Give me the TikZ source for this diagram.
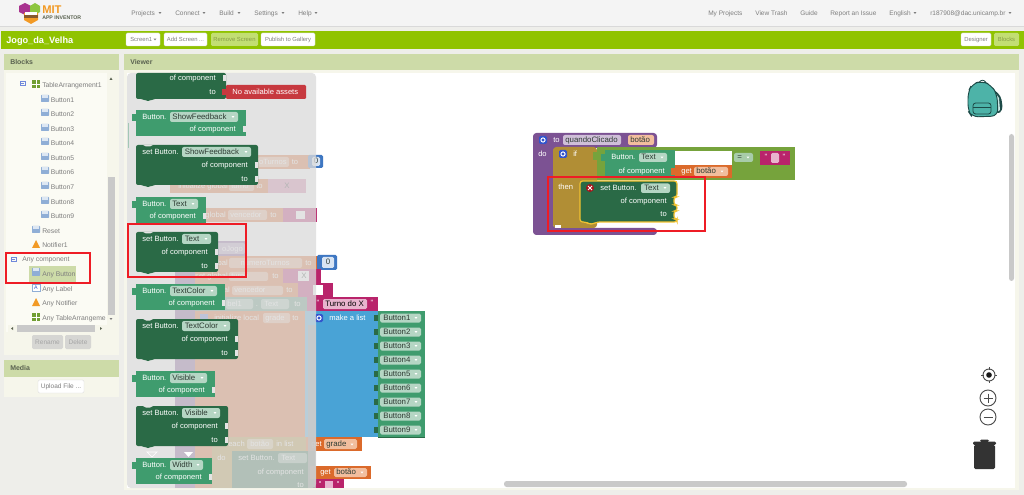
\documentclass[tikz,border=0pt]{standalone}
\usepackage{fontspec}
\setmainfont{Liberation Sans}
\usepackage{xcolor}
\definecolor{pagebg}{HTML}{EEEEEA}
\definecolor{topbar}{HTML}{F4F4F4}
\definecolor{barline}{HTML}{D9D9D9}
\definecolor{menuink}{HTML}{7E7E7E}
\definecolor{limebar}{HTML}{90C300}
\definecolor{headbar}{HTML}{CDDBA8}
\definecolor{headink}{HTML}{5A6250}
\definecolor{panelbody}{HTML}{F6F6EB}
\definecolor{treebody}{HTML}{FBFBF4}
\definecolor{scrollgray}{HTML}{C9C9C9}
\definecolor{flyoutgray}{HTML}{DBDBDB}
\definecolor{flyoutbg}{HTML}{E4E4E4}
\definecolor{setgreen}{HTML}{2A6A46}
\definecolor{getgreen}{HTML}{3F9C6E}
\definecolor{fieldgreen}{HTML}{B5D6C4}
\definecolor{fieldink}{HTML}{2E3B33}
\definecolor{assetred}{HTML}{C7393F}
\definecolor{markred}{HTML}{EE1C25}
\definecolor{getorange}{HTML}{DB6A2B}
\definecolor{fieldorange}{HTML}{F2BE9E}
\definecolor{procpurple}{HTML}{7C5293}
\definecolor{fieldpurple}{HTML}{CFBFD8}
\definecolor{iftan}{HTML}{B18E35}
\definecolor{logiclime}{HTML}{76A33C}
\definecolor{listblue}{HTML}{49A3D6}
\definecolor{gearblue}{HTML}{3355CC}
\definecolor{numblue}{HTML}{3E77C2}
\definecolor{strpink}{HTML}{B9246B}
\definecolor{fieldpink}{HTML}{E8B4CE}
\definecolor{warnyellow}{HTML}{F2C230}
\definecolor{iconblue}{HTML}{8FAED6}
\definecolor{packteal}{HTML}{4DB3A8}
\definecolor{packdark}{HTML}{1D4A47}
\definecolor{logoorange}{HTML}{F29A25}
\definecolor{logopink}{HTML}{A8338F}
\definecolor{logogreen}{HTML}{8DC63F}
\usepackage{tikz}
\usetikzlibrary{positioning}
\tikzset{
  menutxt/.style={font=\fontsize{4.9}{6}\selectfont, text=menuink, inner sep=0, text height=4.1pt, text depth=.8pt},
  btntxt/.style={font=\fontsize{4.4}{6}\selectfont, text=menuink, inner sep=0, text height=3.7pt, text depth=.8pt},
  treetxt/.style={font=\fontsize{5.1}{6}\selectfont, text=menuink, inner sep=0, anchor=west, text height=4.2pt, text depth=.8pt},
  headtxt/.style={font=\bfseries\fontsize{5.2}{6}\selectfont, text=headink, inner sep=0, anchor=west},
  blocktxt/.style={font=\fontsize{5.7}{7}\selectfont, text=white, inner sep=0, text height=4.6pt, text depth=1pt},
  fieldtxt/.style={font=\fontsize{5.9}{7}\selectfont, text=fieldink, inner sep=0, anchor=west, text height=4.7pt, text depth=1pt},
  undercap/.style={fill=white, fill opacity=.45, rounded corners=1.5pt},
  btnbox/.style={fill=white, rounded corners=1pt, draw=barline, line width=.3pt},
  markbox/.style={draw=markred, line width=1.9pt}
}
\newcommand{\downtip}[3]{\fill[#3] (#1-1.4,#2-.9) -- (#1+1.4,#2-.9) -- (#1,#2+1) -- cycle;}
\newcommand{\gearicon}[2]{\fill[gearblue, rounded corners=1pt] (#1-4,#2-4) rectangle (#1+4,#2+4);
  \draw[white, line width=.7pt] (#1,#2) circle (2.1);}
\begin{document}
\begin{tikzpicture}[x=0.75pt,y=-0.75pt]
  \useasboundingbox (0,0) rectangle (1024,495);
  \fill[pagebg] (0,0) rectangle (1024,495);
  % Top menu
  \fill[topbar] (0,0) rectangle (1024,26);
  \draw[barline, line width=.6pt] (0,26.5) -- (1024,26.5);
  % Logo
  \fill[logopink] (19,6) -- (25,3) -- (31,6) -- (31,12) -- (25,15) -- (19,12) -- cycle;
  \fill[logogreen] (30,6) -- (35,3) -- (40,6) -- (40,12) -- (35,15) -- (30,12) -- cycle;
  \fill[logoorange] (24,13) -- (38,13) -- (38,20) -- (31,24) -- (24,20) -- cycle;
  \fill[white] (25,12) rectangle (37,15);
  \fill[brown!70!black] (24,15) rectangle (38,18);
  \node[font=\bfseries\fontsize{8.4}{9}\selectfont, text=logoorange, inner sep=0, anchor=west] (logomit) at (42,9.5) {MIT};
  \node[font=\bfseries\fontsize{3.9}{5}\selectfont, text=headink, inner sep=0, anchor=west] (logoapp) at (42,18) {APP INVENTOR};
  % Menu entries (deterministic positions)
  \foreach \id/\x/\lab in {projects/131/Projects,connect/175/Connect,build/219/Build,settings/254/Settings,help/298/Help} {
    \node[menutxt, anchor=west] (menu\id) at (\x,13) {\lab};
  }
  \downtip{160}{13}{menuink} \downtip{204}{13}{menuink} \downtip{239}{13}{menuink}
  \downtip{283}{13}{menuink} \downtip{316}{13}{menuink}
  \foreach \id/\x/\lab in {myprojects/708/My Projects,trash/755/View Trash,guide/800/Guide,issue/830/Report an Issue,english/889/English,account/930/r187908@dac.unicamp.br} {
    \node[menutxt, anchor=west] (menu\id) at (\x,13) {\lab};
  }
  \downtip{915}{13}{menuink} \downtip{1010}{13}{menuink}
  % Project bar
  \fill[limebar] (1,31) rectangle (1024,49);
  \node[font=\bfseries\fontsize{6.9}{8}\selectfont, text=white, inner sep=0, anchor=west] (project) at (6,41) {Jogo\_da\_Velha};
  \foreach \id/\xa/\xb/\lab in {publish/261/315/Publish to Gallery,designer/961/991/Designer} {
    \path[btnbox] (\xa,33) rectangle (\xb,46);
    \node[btntxt] (bar\id) at ({(\xa+\xb)/2},39.5) {\lab};
  }
  \path[btnbox] (164,33) rectangle (207,46);
  \node[btntxt] (baraddscreen) at (185.5,39.5) {Add Screen ...};
  \path[btnbox] (126,33) rectangle (160,46);
  \node[btntxt, anchor=west] (barscreen) at (130,39.5) {Screen1};
  \downtip{155}{39.5}{menuink}
  \foreach \id/\xa/\xb/\lab in {remove/211/258/Remove Screen,blocks/994/1019/Blocks} {
    \fill[limebar!55!white, rounded corners=1pt] (\xa,33) rectangle (\xb,46);
    \node[btntxt, text=limebar!45!menuink] (bar\id) at ({(\xa+\xb)/2},39.5) {\lab};
  }
  % Blocks panel
  \fill[panelbody] (4,54) rectangle (119,355);
  \fill[headbar] (4,54) rectangle (119,70);
  \node[headtxt] (blockshead) at (10,62) {Blocks};
  \fill[treebody] (6,73) rectangle (115,332);
  % Tree of components
  \draw[gearblue!70!white, line width=.5pt] (20,81) rectangle (25,85.5);
  \draw[gearblue!70!white, line width=.5pt] (21,83.2) -- (24,83.2);
  \fill[logogreen!80!black] (32,80) rectangle (40,88);
  \draw[white, line width=.4pt] (36,80) -- (36,88) (32,84) -- (40,84);
  \node[treetxt] (tablearr) at (42,85) {TableArrangement1};
  \foreach \i/\y in {1/100,2/114,3/129,4/143,5/158,6/172,7/187,8/202,9/216} {
    \fill[iconblue, rounded corners=.5pt] (41,\y-5) rectangle (49,\y+2);
    \fill[white!70!iconblue] (42,\y-4.5) rectangle (48,\y-2);
    \node[treetxt] (tree\i) at (50.5,\y) {Button\i};
  }
  \fill[iconblue, rounded corners=.5pt] (32,226) rectangle (40,233);
  \fill[white!70!iconblue] (33,226.5) rectangle (39,229);
  \node[treetxt] (reset) at (42,231.5) {Reset};
  \fill[logoorange] (32,248) -- (36,240) -- (40,248) -- cycle;
  \node[treetxt] (notifier) at (42,245.5) {Notifier1};
  \draw[gearblue!70!white, line width=.5pt] (11,257) rectangle (16,261.5);
  \draw[gearblue!70!white, line width=.5pt] (12,259.2) -- (15,259.2);
  \node[treetxt] (anycomp) at (22,259.5) {Any component};
  \fill[headbar] (29,266) rectangle (76,282);
  \fill[iconblue, rounded corners=.5pt] (32,268) rectangle (40,276);
  \fill[white!70!iconblue] (33,268.5) rectangle (39,271);
  \node[treetxt] (anybutton) at (42,274.5) {Any Button};
  \draw[iconblue, fill=white, line width=.4pt] (32,284) rectangle (40,291);
  \node[font=\fontsize{4}{4}\selectfont, text=gearblue, inner sep=0] (anylabelicon) at (36,287.5) {A};
  \node[treetxt] (anylabel) at (42,289) {Any Label};
  \fill[logoorange] (32,306) -- (36,298) -- (40,306) -- cycle;
  \node[treetxt] (anynotifier) at (42,303.5) {Any Notifier};
  \fill[logogreen!80!black] (32,313) rectangle (40,321);
  \draw[white, line width=.4pt] (36,313) -- (36,321) (32,317) -- (40,317);
  \begin{scope}
    \clip (41,310) rectangle (105,325);
    \node[treetxt] (anytable) at (42,318) {Any TableArrangement1};
  \end{scope}
  % Tree scrollbars
  \fill[panelbody] (107,73) rectangle (115,325);
  \fill[scrollgray] (108,177) rectangle (115,315);
  \fill[headink] (111,77.5) -- (109.5,80) -- (112.5,80) -- cycle;
  \downtip{111}{319}{menuink}
  \fill[panelbody] (8,325) rectangle (115,332);
  \fill[scrollgray] (17,325) rectangle (95,332);
  \fill[headink] (11,328.5) -- (13,327) -- (13,330) -- cycle;
  \fill[headink] (102,328.5) -- (100,327) -- (100,330) -- cycle;
  \foreach \id/\xa/\xb/\lab in {rename/32/63/Rename,delete/65/91/Delete} {
    \fill[pagebg!90!black, rounded corners=1pt] (\xa,335) rectangle (\xb,349);
    \node[menutxt, text=menuink!70!white] (tree\id) at ({(\xa+\xb)/2},342) {\lab};
  }
  % Media panel
  \fill[panelbody] (4,360) rectangle (119,397);
  \fill[headbar] (4,360) rectangle (119,377);
  \node[headtxt] (mediahead) at (10,368.5) {Media};
  \path[btnbox] (38,380) rectangle (84,393);
  \node[menutxt] (upload) at (61,386.5) {Upload File ...};
  % Viewer panel
  \fill[panelbody] (124,54) rectangle (1019,490);
  \fill[headbar] (124,54) rectangle (1019,70);
  \node[headtxt] (viewerhead) at (130,62) {Viewer};
  \fill[white] (127,73) rectangle (1015,488);
  % Blocks lying under the drawer
  \fill[procpurple] (175,241) rectangle (245,256);
  \fill[procpurple] (175,241) rectangle (195,488);
  \fill[getorange] (195,256) rectangle (310,488);
  \fill[getorange] (170,155) rectangle (310,169);
  \fill[numblue, rounded corners=1pt] (308,155) rectangle (323,168);
  \fill[white!80!numblue, rounded corners=1pt] (312,157) rectangle (320,166);
  \node[fieldtxt] (undernum) at (313.5,161.5) {0};
  \path[undercap] (258,157) rectangle (289,167);
  \node[blocktxt, anchor=east] (underturnos) at (287,162) {oTurnos};
  \node[blocktxt] (underto) at (295,162) {to};
  \fill[getorange] (170,179) rectangle (270,193);
  \fill[strpink!60!white] (268,179) rectangle (306,193);
  \path[undercap] (229,181) rectangle (254,191);
  \node[blocktxt, anchor=east] (underinit) at (228,186) {initialize global};
  \node[blocktxt, anchor=west] (underturno) at (231,186) {turno};
  \node[blocktxt, anchor=west] (undertoturno) at (256,186) {to};
  \node[fieldtxt] (underx) at (284,186) {X};
  \fill[getorange] (170,208) rectangle (284,222);
  \fill[strpink] (283,208) rectangle (317,222);
  \path[undercap] (228,210) rectangle (267,220);
  \node[blocktxt, anchor=east] (underglobal) at (226,215) {global};
  \node[blocktxt, anchor=west] (undervenc) at (230,215) {vencedor};
  \node[blocktxt, anchor=west] (undertovenc) at (270,215) {to};
  \fill[white] (296,211) rectangle (305,219);
  \path[undercap] (207,243) rectangle (245,254);
  \node[blocktxt, anchor=east] (undernovo) at (243,249) {oJogo};
  \fill[getorange] (195,256) rectangle (322,269);
  \fill[numblue, rounded corners=1pt] (317,255) rectangle (337,270);
  \fill[white!80!numblue, rounded corners=1pt] (322,257) rectangle (334,268);
  \node[fieldtxt] (numzero) at (325.5,262.5) {0};
  \path[undercap] (229,258) rectangle (302,268);
  \node[blocktxt, anchor=east] (underglobal2) at (228,263) {lobal};
  \node[blocktxt, anchor=east] (undernum2) at (290,263) {numeroTurnos};
  \node[blocktxt, anchor=west] (underto2) at (305,263) {to};
  \fill[strpink] (283,269) rectangle (321,283);
  \path[undercap] (229,272) rectangle (268,281);
  \node[blocktxt, anchor=east] (underset) at (228,276.5) {set global};
  \node[blocktxt, anchor=west] (underturno2) at (231,276.5) {turno};
  \node[blocktxt, anchor=west] (undertoset) at (272,276.5) {to};
  \fill[white] (298,271) rectangle (309,281);
  \node[fieldtxt] (underx2) at (301,276) {X};
  \fill[strpink] (298,283) rectangle (333,297);
  \path[undercap] (232,286) rectangle (283,295);
  \node[blocktxt, anchor=east] (underglobal3) at (230,290.5) {bal};
  \node[blocktxt, anchor=west] (undervenc2) at (234,290.5) {vencedor};
  \node[blocktxt, anchor=west] (undertovenc2) at (286,290.5) {to};
  \fill[white] (313,285) rectangle (323,295);
  \fill[getgreen!60!gray] (195,297) rectangle (310,311);
  \path[undercap] (226,299) rectangle (253,309);
  \path[undercap] (261,299) rectangle (289,309);
  \node[blocktxt, anchor=east] (underlabel) at (242,304) {bel1};
  \node[blocktxt] (underdot) at (257,304) {.};
  \node[blocktxt, anchor=west] (undertext) at (264,304) {Text};
  \node[blocktxt, anchor=west] (undertolabel) at (294,304) {to};
  \path[undercap] (263,313) rectangle (290,323);
  \node[blocktxt, anchor=west] (underlocal) at (214,318) {initialize local};
  \node[blocktxt, anchor=west] (undergrade) at (265,318) {grade};
  \node[blocktxt, anchor=west] (undertolocal) at (292,318) {to};
  \fill[gearblue!80!white] (200,314) rectangle (208,322);
  % Strings and list on the right of the drawer
  \fill[strpink] (307,297) rectangle (378,311);
  \fill[fieldpink, rounded corners=1pt] (323,299) rectangle (367,309);
  \node[blocktxt] (stropen) at (318,303.5) {"};
  \node[blocktxt] (strclose) at (372,303.5) {"};
  \node[fieldtxt, text=black] (turnox) at (325,304) {Turno do X};
  \fill[listblue] (305,311) rectangle (378,437);
  \gearicon{319}{318}
  \node[blocktxt, anchor=west] (makelist) at (329,318) {make a list};
  \foreach \i in {1,...,9} {
    \pgfmathsetmacro{\ytop}{311+14*(\i-1)}
    \fill[getgreen] (378,\ytop) rectangle (425,\ytop+14);
    \fill[setgreen] (374,\ytop+4) rectangle (378,\ytop+10);
    \draw[setgreen, line width=.3pt] (378,\ytop+14) -- (425,\ytop+14);
    \fill[fieldgreen, rounded corners=1.2pt] (380,\ytop+2.5) rectangle (421,\ytop+11.5);
    \node[fieldtxt] (listbtn\i) at (383,\ytop+7) {Button\i};
    \downtip{416}{\ytop+7}{white}
  }
  % For each under the drawer
  \fill[iftan] (212,437) rectangle (310,488);
  \fill[setgreen] (232,451) rectangle (315,488);
  \path[undercap] (247,439) rectangle (273,449);
  \node[blocktxt, anchor=west] (undereach) at (228,444.5) {each};
  \node[blocktxt, anchor=west] (underbotao) at (250,444.5) {botão};
  \node[blocktxt, anchor=west] (underlist) at (276,444.5) {in list};
  \node[blocktxt, anchor=west] (underdo) at (217,458.5) {do};
  \path[undercap] (278,453) rectangle (307,463);
  \node[blocktxt, anchor=west] (underset2) at (238,458.5) {set Button.};
  \node[blocktxt, anchor=west] (undertext2) at (281,458.5) {Text};
  \node[blocktxt, anchor=east] (underof) at (304,472) {of component};
  \node[blocktxt, anchor=east] (underto3) at (304,485) {to};
  \fill[getorange] (306,437) rectangle (362,451);
  \node[blocktxt, anchor=west] (getword1) at (311,444.5) {get};
  \fill[fieldorange, rounded corners=1.2pt] (324,439) rectangle (357,449);
  \node[fieldtxt] (getgrade) at (326,444.5) {grade};
  \downtip{352}{444.5}{white}
  \fill[getorange] (310,466) rectangle (371,479);
  \node[blocktxt, anchor=west] (getword2) at (320,472.5) {get};
  \fill[fieldorange, rounded corners=1.2pt] (334,468) rectangle (367,477);
  \node[fieldtxt] (getbotao) at (336,472.5) {botão};
  \downtip{362}{472.5}{white}
  \fill[strpink] (314,479) rectangle (344,488);
  \fill[fieldpink] (325,481) rectangle (333,488);
  \fill[white] (320,482) circle (.8) (338,482) circle (.8);
  % Drawer over them
  \fill[flyoutgray, opacity=.77, rounded corners=3pt] (127,73) rectangle (316,488);
  \fill[scrollgray, opacity=.8] (308,325) rectangle (316,488);
  \draw[getgreen!40!flyoutbg, line width=.6pt] (128.5,123) -- (128.5,148);
  % Drawer: block cut off at the top
  \fill[setgreen, rounded corners=1.5pt] (136,73) -- (226,73) -- (226,99) -- (153,99) -- (150,101) -- (146,101) -- (143,99) -- (136,99) -- cycle;
  \fill[flyoutbg] (222.5,75) rectangle (226,81);
  \node[blocktxt, anchor=east] (topof) at (216,78) {of component};
  \node[blocktxt, anchor=east] (topto) at (216,92) {to};
  \fill[assetred, rounded corners=.8pt] (226,85) rectangle (306,99);
  \fill[assetred] (222,89) rectangle (226,95);
  \node[blocktxt, anchor=west] (assets) at (232,92) {No available assets};
  % Drawer: getters
  \foreach \id/\ytop/\rgt/\fldr/\lab in {showget/110/246/238/ShowFeedback,textget/197/206/198/Text,colorget/284/225/217/TextColor,visget/371/215/207/Visible,widthget/458/212/203/Width} {
    \fill[getgreen] (136,\ytop) rectangle (\rgt,\ytop+26);
    \fill[getgreen] (132,\ytop+4) rectangle (136,\ytop+11);
    \fill[flyoutbg] (\rgt-3.5,\ytop+16) rectangle (\rgt,\ytop+22);
    \fill[fieldgreen, rounded corners=1.5pt] (170,\ytop+2) rectangle (\fldr,\ytop+12);
    \node[blocktxt, anchor=west] (\id-button) at (142,\ytop+7) {Button.};
    \node[fieldtxt] (\id-field) at (172,\ytop+7) {\lab};
    \downtip{\fldr-5}{\ytop+7}{white}
    \node[blocktxt, anchor=east] (\id-of) at (\rgt-10,\ytop+19.5) {of component};
  }
  % Drawer: setters
  \foreach \id/\ytop/\rgt/\fldr/\lab in {showset/145/258/251/ShowFeedback,textset/232/218/211/Text,colorset/319/238/230/TextColor,visset/406/228/220/Visible} {
    \fill[setgreen, rounded corners=1.5pt] (136,\ytop) -- (\rgt,\ytop) -- (\rgt,\ytop+40) -- (153,\ytop+40) -- (150,\ytop+42) -- (146,\ytop+42) -- (143,\ytop+40) -- (136,\ytop+40) -- cycle;
    \fill[flyoutbg] (143,\ytop) -- (146,\ytop+1.5) -- (150,\ytop+1.5) -- (153,\ytop) -- cycle;
    \fill[flyoutbg] (\rgt-3.5,\ytop+17) rectangle (\rgt,\ytop+23);
    \fill[flyoutbg] (\rgt-3.5,\ytop+31) rectangle (\rgt,\ytop+37);
    \fill[fieldgreen, rounded corners=1.5pt] (182,\ytop+2) rectangle (\fldr,\ytop+12);
    \node[blocktxt, anchor=west] (\id-set) at (142,\ytop+7) {set Button.};
    \node[fieldtxt] (\id-field) at (184.5,\ytop+7) {\lab};
    \downtip{\fldr-5}{\ytop+7}{white}
    \node[blocktxt, anchor=east] (\id-of) at (\rgt-10,\ytop+20.5) {of component};
    \node[blocktxt, anchor=east] (\id-to) at (\rgt-10,\ytop+34) {to};
  }
  % Small drop marks above the last getter
  \draw[white, fill=flyoutbg, line width=.5pt] (147,452) -- (157,452) -- (152,457) -- cycle;
  \fill[white] (184,452) -- (193,452) -- (188.5,457) -- cycle;
  % Procedure in the workspace
  \fill[procpurple, rounded corners=2.5pt] (533,133) -- (657,133) -- (657,148) -- (553,148) -- (553,228) -- (657,228) -- (657,235) -- (533,235) -- cycle;
  \gearicon{543}{140}
  \node[blocktxt, anchor=west] (procto) at (553,140.5) {to};
  \fill[fieldpurple, rounded corners=1.5pt] (563,135) rectangle (621,145);
  \node[fieldtxt] (procname) at (565,140.5) {quandoClicado};
  \fill[fieldorange, rounded corners=1.5pt] (628,135) rectangle (654,145);
  \node[fieldtxt] (procarg) at (630,140.5) {botão};
  \node[blocktxt, anchor=west] (procdo) at (538,154) {do};
  % If
  \fill[iftan, rounded corners=2.5pt] (553,147) -- (597,147) -- (597,228) -- (553,228) -- cycle;
  \fill[white] (555,225.5) rectangle (561,228);
  \gearicon{563}{154}
  \node[blocktxt, anchor=west] (ifword) at (573,154) {if};
  \node[blocktxt, anchor=west] (thenword) at (558,187) {then};
  % Compare
  \fill[logiclime] (597,147) rectangle (795,180);
  \fill[logiclime] (593,152) rectangle (597,160);
  \fill[getgreen] (605,150) rectangle (675,176);
  \fill[getgreen] (601,154) rectangle (605,161);
  \node[blocktxt, anchor=west] (cmpbutton) at (611,157) {Button.};
  \fill[fieldgreen, rounded corners=1.5pt] (639,153) rectangle (667,162);
  \node[fieldtxt] (cmpfield) at (641,157.5) {Text};
  \downtip{662}{157.5}{white}
  \node[blocktxt, anchor=east] (cmpof) at (665,171) {of component};
  \fill[white] (675,151) rectangle (732,165);
  \fill[fieldgreen!80!logiclime, rounded corners=1.5pt] (734,153) rectangle (753,162);
  \node[fieldtxt] (cmpeq) at (737,157.5) {=};
  \downtip{748}{157.5}{white}
  \fill[strpink] (760,151) rectangle (790,165);
  \fill[fieldpink, rounded corners=1pt] (771,153) rectangle (779,163);
  \node[blocktxt] (cmpopen) at (766,157) {"};
  \node[blocktxt] (cmpclose) at (784,157) {"};
  \fill[getorange] (675,165) rectangle (732,178);
  \fill[getorange] (671,168) rectangle (675,175);
  \node[blocktxt, anchor=west] (cmpget) at (681,171.5) {get};
  \fill[fieldorange, rounded corners=1.5pt] (694,167) rectangle (728,176);
  \node[fieldtxt] (cmpbotao) at (696,171.5) {botão};
  \downtip{722}{171.5}{white}
  % Setter with a warning
  \fill[setgreen, rounded corners=2pt, draw=warnyellow, line width=.9pt] (580,181) -- (677,181) -- (677,197) -- (674,197) -- (674,205) -- (677,205) -- (677,211) -- (674,211) -- (674,219) -- (677,219) -- (677,222) -- (597,222) -- (593,224) -- (589,224) -- (586,222) -- (580,222) -- cycle;
  \fill[markred!70!black] (590,188) circle (4);
  \draw[white, line width=.6pt] (588,186) -- (592,190) (592,186) -- (588,190);
  \node[blocktxt, anchor=west] (warnset) at (600,188) {set Button.};
  \fill[fieldgreen, rounded corners=1.5pt] (641,183.5) rectangle (670,193);
  \node[fieldtxt] (warnfield) at (644,188) {Text};
  \downtip{665}{188}{white}
  \node[blocktxt, anchor=east] (warnof) at (667,201) {of component};
  \node[blocktxt, anchor=east] (warnto) at (667,214.5) {to};
  % Workspace controls
  \fill[white!20!black, rounded corners=1pt] (974,445) rectangle (995,469);
  \fill[white!20!black, rounded corners=1pt] (973,441.5) rectangle (996,445);
  \fill[white!20!black, rounded corners=1pt] (980,439.5) rectangle (989,442);
  \draw[white!30!black, line width=.7pt] (989,375) circle (6);
  \fill[white!10!black] (989,375) circle (2.8);
  \draw[white!30!black, line width=.7pt] (989,367) -- (989,369.5) (989,380.5) -- (989,383) (981,375) -- (983.5,375) (994.5,375) -- (997,375);
  \draw[white!30!black, line width=.7pt] (988,398) circle (8);
  \draw[white!30!black, line width=.7pt] (983.5,398) -- (992.5,398) (988,393.5) -- (988,402.5);
  \draw[white!30!black, line width=.7pt] (988,417) circle (8);
  \draw[white!30!black, line width=.7pt] (983.5,417) -- (992.5,417);
  % Backpack
  \fill[packdark, rounded corners=3pt] (992,88) -- (1001,96) -- (1003,110) -- (997,115) -- cycle;
  \fill[white!70!packteal] (996,94) -- (999,98) -- (1000,110) -- (997,112) -- cycle;
  \draw[packdark, line width=.6pt] (979,82.5) .. controls (981,79.5) and (984,79.5) .. (986,82.5);
  \draw[packdark, fill=packteal, line width=.7pt, rounded corners=5pt] (968,111) -- (968,92) -- (972,84) -- (982,81) -- (991,85) -- (997,94) -- (998,116) -- (972,117) -- cycle;
  \draw[packdark, fill=packteal, line width=.6pt, rounded corners=2pt] (973,103) rectangle (991,114);
  \draw[packdark, line width=.5pt] (973,107) -- (991,107);
  % Workspace scrollbars
  \fill[scrollgray, rounded corners=2pt] (1009,134) rectangle (1014,281);
  \fill[scrollgray, rounded corners=2pt] (504,481) rectangle (907,487);
  % Red marks
  \draw[markbox] (6,253) rectangle (90,283);
  \draw[markbox] (128,224) rectangle (246,277);
  \draw[markbox] (548,177) rectangle (705,231);
\end{tikzpicture}
\end{document}
